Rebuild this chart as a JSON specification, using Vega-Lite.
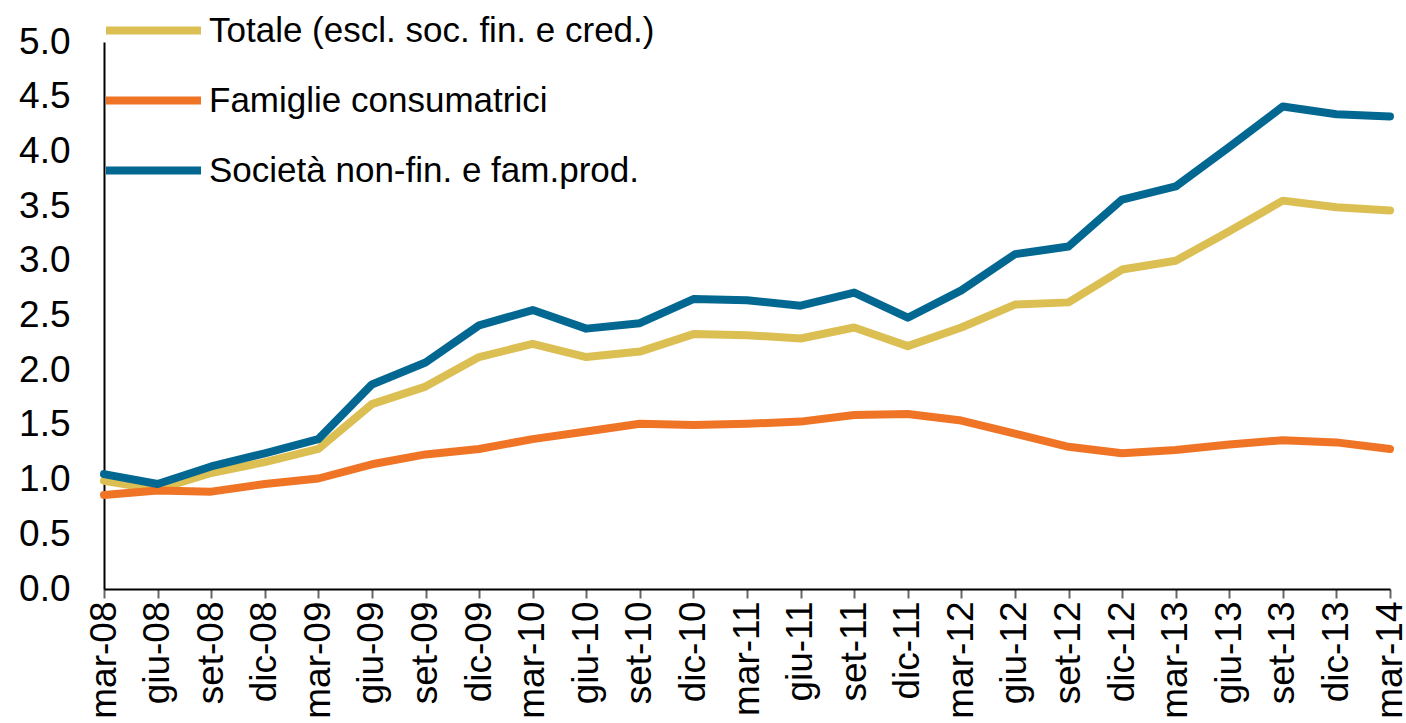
{
  "$schema": "https://vega.github.io/schema/vega-lite/v6.json",
  "width": 1286,
  "height": 547,
  "autosize": {"type": "none"},
  "padding": {"left": 104, "top": 42, "right": 16, "bottom": 134},
  "background": "white",
  "config": {
    "view": {"stroke": null},
    "font": "Liberation Sans",
    "axis": {"labelFont": "Liberation Sans", "labelColor": "black", "grid": false}
  },
  "data": {
    "values": [
      {"p": "mar-08", "s": "Totale (escl. soc. fin. e cred.)", "v": 0.99},
      {"p": "giu-08", "s": "Totale (escl. soc. fin. e cred.)", "v": 0.91},
      {"p": "set-08", "s": "Totale (escl. soc. fin. e cred.)", "v": 1.06},
      {"p": "dic-08", "s": "Totale (escl. soc. fin. e cred.)", "v": 1.16},
      {"p": "mar-09", "s": "Totale (escl. soc. fin. e cred.)", "v": 1.28},
      {"p": "giu-09", "s": "Totale (escl. soc. fin. e cred.)", "v": 1.69},
      {"p": "set-09", "s": "Totale (escl. soc. fin. e cred.)", "v": 1.85},
      {"p": "dic-09", "s": "Totale (escl. soc. fin. e cred.)", "v": 2.12},
      {"p": "mar-10", "s": "Totale (escl. soc. fin. e cred.)", "v": 2.24},
      {"p": "giu-10", "s": "Totale (escl. soc. fin. e cred.)", "v": 2.12},
      {"p": "set-10", "s": "Totale (escl. soc. fin. e cred.)", "v": 2.17},
      {"p": "dic-10", "s": "Totale (escl. soc. fin. e cred.)", "v": 2.33},
      {"p": "mar-11", "s": "Totale (escl. soc. fin. e cred.)", "v": 2.32},
      {"p": "giu-11", "s": "Totale (escl. soc. fin. e cred.)", "v": 2.29},
      {"p": "set-11", "s": "Totale (escl. soc. fin. e cred.)", "v": 2.39},
      {"p": "dic-11", "s": "Totale (escl. soc. fin. e cred.)", "v": 2.22},
      {"p": "mar-12", "s": "Totale (escl. soc. fin. e cred.)", "v": 2.39},
      {"p": "giu-12", "s": "Totale (escl. soc. fin. e cred.)", "v": 2.60},
      {"p": "set-12", "s": "Totale (escl. soc. fin. e cred.)", "v": 2.62},
      {"p": "dic-12", "s": "Totale (escl. soc. fin. e cred.)", "v": 2.92},
      {"p": "mar-13", "s": "Totale (escl. soc. fin. e cred.)", "v": 3.00},
      {"p": "giu-13", "s": "Totale (escl. soc. fin. e cred.)", "v": 3.27},
      {"p": "set-13", "s": "Totale (escl. soc. fin. e cred.)", "v": 3.55},
      {"p": "dic-13", "s": "Totale (escl. soc. fin. e cred.)", "v": 3.49},
      {"p": "mar-14", "s": "Totale (escl. soc. fin. e cred.)", "v": 3.46},
      {"p": "mar-08", "s": "Famiglie consumatrici", "v": 0.86},
      {"p": "giu-08", "s": "Famiglie consumatrici", "v": 0.90},
      {"p": "set-08", "s": "Famiglie consumatrici", "v": 0.89},
      {"p": "dic-08", "s": "Famiglie consumatrici", "v": 0.96},
      {"p": "mar-09", "s": "Famiglie consumatrici", "v": 1.01},
      {"p": "giu-09", "s": "Famiglie consumatrici", "v": 1.14},
      {"p": "set-09", "s": "Famiglie consumatrici", "v": 1.23},
      {"p": "dic-09", "s": "Famiglie consumatrici", "v": 1.28},
      {"p": "mar-10", "s": "Famiglie consumatrici", "v": 1.37},
      {"p": "giu-10", "s": "Famiglie consumatrici", "v": 1.44},
      {"p": "set-10", "s": "Famiglie consumatrici", "v": 1.51},
      {"p": "dic-10", "s": "Famiglie consumatrici", "v": 1.50},
      {"p": "mar-11", "s": "Famiglie consumatrici", "v": 1.51},
      {"p": "giu-11", "s": "Famiglie consumatrici", "v": 1.53},
      {"p": "set-11", "s": "Famiglie consumatrici", "v": 1.59},
      {"p": "dic-11", "s": "Famiglie consumatrici", "v": 1.60},
      {"p": "mar-12", "s": "Famiglie consumatrici", "v": 1.54},
      {"p": "giu-12", "s": "Famiglie consumatrici", "v": 1.42},
      {"p": "set-12", "s": "Famiglie consumatrici", "v": 1.30},
      {"p": "dic-12", "s": "Famiglie consumatrici", "v": 1.24},
      {"p": "mar-13", "s": "Famiglie consumatrici", "v": 1.27},
      {"p": "giu-13", "s": "Famiglie consumatrici", "v": 1.32},
      {"p": "set-13", "s": "Famiglie consumatrici", "v": 1.36},
      {"p": "dic-13", "s": "Famiglie consumatrici", "v": 1.34},
      {"p": "mar-14", "s": "Famiglie consumatrici", "v": 1.28},
      {"p": "mar-08", "s": "Società non-fin. e fam.prod.", "v": 1.05},
      {"p": "giu-08", "s": "Società non-fin. e fam.prod.", "v": 0.96},
      {"p": "set-08", "s": "Società non-fin. e fam.prod.", "v": 1.12},
      {"p": "dic-08", "s": "Società non-fin. e fam.prod.", "v": 1.24},
      {"p": "mar-09", "s": "Società non-fin. e fam.prod.", "v": 1.37},
      {"p": "giu-09", "s": "Società non-fin. e fam.prod.", "v": 1.87},
      {"p": "set-09", "s": "Società non-fin. e fam.prod.", "v": 2.07},
      {"p": "dic-09", "s": "Società non-fin. e fam.prod.", "v": 2.41},
      {"p": "mar-10", "s": "Società non-fin. e fam.prod.", "v": 2.55},
      {"p": "giu-10", "s": "Società non-fin. e fam.prod.", "v": 2.38},
      {"p": "set-10", "s": "Società non-fin. e fam.prod.", "v": 2.43},
      {"p": "dic-10", "s": "Società non-fin. e fam.prod.", "v": 2.65},
      {"p": "mar-11", "s": "Società non-fin. e fam.prod.", "v": 2.64},
      {"p": "giu-11", "s": "Società non-fin. e fam.prod.", "v": 2.59},
      {"p": "set-11", "s": "Società non-fin. e fam.prod.", "v": 2.71},
      {"p": "dic-11", "s": "Società non-fin. e fam.prod.", "v": 2.48},
      {"p": "mar-12", "s": "Società non-fin. e fam.prod.", "v": 2.73},
      {"p": "giu-12", "s": "Società non-fin. e fam.prod.", "v": 3.06},
      {"p": "set-12", "s": "Società non-fin. e fam.prod.", "v": 3.13},
      {"p": "dic-12", "s": "Società non-fin. e fam.prod.", "v": 3.56},
      {"p": "mar-13", "s": "Società non-fin. e fam.prod.", "v": 3.68},
      {"p": "giu-13", "s": "Società non-fin. e fam.prod.", "v": 4.04},
      {"p": "set-13", "s": "Società non-fin. e fam.prod.", "v": 4.41},
      {"p": "dic-13", "s": "Società non-fin. e fam.prod.", "v": 4.34},
      {"p": "mar-14", "s": "Società non-fin. e fam.prod.", "v": 4.32}
    ]
  },
  "mark": {"type": "line", "strokeWidth": 8, "strokeCap": "round", "strokeJoin": "round"},
  "encoding": {
    "x": {
      "field": "p", "type": "ordinal", "sort": null,
      "scale": {"type": "point", "padding": 0},
      "axis": {
        "title": null, "labelAngle": -90, "labelAlign": "right", "labelBaseline": "middle",
        "labelFontSize": 37, "labelPadding": 3, "tickSize": 9, "tickColor": "#666666", "tickWidth": 2,
        "domainColor": "black", "domainWidth": 2
      }
    },
    "y": {
      "field": "v", "type": "quantitative",
      "scale": {"domain": [0, 5], "nice": false, "zero": true},
      "axis": {
        "title": null, "values": [0, 0.5, 1, 1.5, 2, 2.5, 3, 3.5, 4, 4.5, 5], "format": ".1f",
        "labelFontSize": 37, "ticks": false, "labelPadding": 34,
        "domainColor": "black", "domainWidth": 2
      }
    },
    "color": {
      "field": "s", "type": "nominal",
      "scale": {
        "domain": ["Totale (escl. soc. fin. e cred.)", "Famiglie consumatrici", "Società non-fin. e fam.prod."],
        "range": ["#DCBF52", "#F07425", "#036891"]
      },
      "legend": {
        "title": null, "orient": "none", "legendX": -2, "legendY": -63, "padding": 0,
        "symbolType": "stroke", "symbolSize": 9025, "symbolStrokeWidth": 8,
        "labelFontSize": 35, "labelFont": "Liberation Sans", "labelColor": "black", "labelOffset": 4,
        "rowPadding": -27, "labelLimit": 700
      }
    }
  }
}
